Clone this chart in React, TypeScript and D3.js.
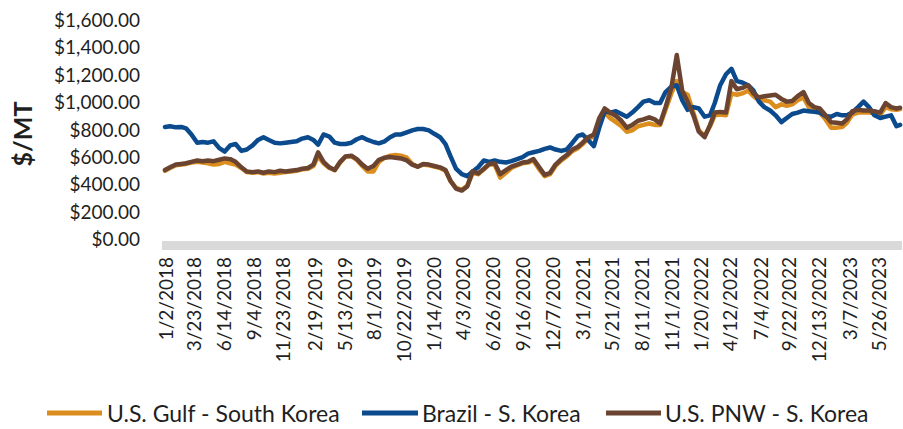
import React from "react";
import * as d3 from "d3";

const DATES: string[] = [
  "2018-01-02","2018-01-16","2018-02-01","2018-02-16","2018-03-01","2018-03-16","2018-04-01","2018-04-16","2018-05-01","2018-05-16","2018-06-01","2018-06-16","2018-07-01","2018-07-16","2018-08-01","2018-08-16","2018-09-01","2018-09-16","2018-10-01","2018-10-16","2018-11-01","2018-11-16","2018-12-01","2018-12-16",
  "2019-01-01","2019-01-16","2019-02-01","2019-02-16","2019-03-01","2019-03-16","2019-04-01","2019-04-16","2019-05-01","2019-05-16","2019-06-01","2019-06-16","2019-07-01","2019-07-16","2019-08-01","2019-08-16","2019-09-01","2019-09-16","2019-10-01","2019-10-16","2019-11-01","2019-11-16","2019-12-01","2019-12-16",
  "2020-01-01","2020-01-16","2020-02-01","2020-02-16","2020-03-01","2020-03-16","2020-04-01","2020-04-16","2020-05-01","2020-05-16","2020-06-01","2020-06-16","2020-07-01","2020-07-16","2020-08-01","2020-08-16","2020-09-01","2020-09-16","2020-10-01","2020-10-16","2020-11-01","2020-11-16","2020-12-01","2020-12-16",
  "2021-01-01","2021-01-16","2021-02-01","2021-02-16","2021-03-01","2021-03-16","2021-04-01","2021-04-16","2021-05-01","2021-05-16","2021-06-01","2021-06-16","2021-07-01","2021-07-16","2021-08-01","2021-08-16","2021-09-01","2021-09-16","2021-10-01","2021-10-16","2021-11-01","2021-11-16","2021-12-01","2021-12-16",
  "2022-01-01","2022-01-16","2022-02-01","2022-02-16","2022-03-01","2022-03-16","2022-04-01","2022-04-16","2022-05-01","2022-05-16","2022-06-01","2022-06-16","2022-07-01","2022-07-16","2022-08-01","2022-08-16","2022-09-01","2022-09-16","2022-10-01","2022-10-16","2022-11-01","2022-11-16","2022-12-01","2022-12-16",
  "2023-01-01","2023-01-16","2023-02-01","2023-02-16","2023-03-01","2023-03-16","2023-04-01","2023-04-16","2023-05-01","2023-05-16","2023-06-01","2023-06-16","2023-07-01","2023-07-16","2023-07-26",
];

const US_GULF: number[] = [
  495, 515, 535, 540, 545, 555, 560, 555, 550, 540,
  545, 560, 550, 540, 515, 485, 480, 485, 475, 480,
  475, 480, 485, 490, 495, 505, 510, 530, 600, 550,
  515, 500, 555, 600, 600, 575, 530, 490, 490, 560,
  590, 605, 610, 605, 590, 545, 525, 540, 535, 525,
  515, 495, 420, 370, 355, 385, 480, 470, 505, 540,
  540, 445, 480, 515, 535, 550, 555, 570, 505, 455,
  470, 530, 570, 600, 640, 660, 690, 730, 745, 850,
  920, 880, 850, 820, 780, 790, 820, 830, 840, 830,
  830, 940, 1060, 1150, 1070, 1050, 920, 790, 750, 820,
  900, 905, 900, 1060, 1050, 1060, 1080, 1040, 1010, 1010,
  1000, 960, 980, 970, 980, 1010, 1030, 960, 930, 920,
  870, 810, 810, 815, 845, 905, 920, 920, 920, 915,
  905, 960, 945, 940, 945,
];

const BRAZIL: number[] = [
  815, 820, 812, 815, 805, 760, 700, 705, 700, 710,
  660, 635, 680, 690, 640, 650, 680, 720, 740, 720,
  700, 695, 700, 705, 710, 730, 740, 720, 685, 760,
  745, 700, 690, 690, 700, 725, 740, 720, 705, 695,
  710, 740, 760, 760, 775, 790, 800, 800, 790, 765,
  740, 690, 600, 510, 470, 455, 490, 520, 570, 560,
  570, 560, 555, 565, 580, 595, 620, 630, 640, 655,
  665, 650, 640, 650, 700, 750, 760, 720, 675, 810,
  930, 920, 930, 910, 890, 920, 960, 1000, 1010, 990,
  990, 1070, 1110, 1120, 1010, 940, 960, 950, 890, 900,
  990, 1120, 1200, 1240, 1150, 1140, 1120, 1080, 1000, 960,
  935, 900, 850, 880, 910, 920, 935, 930, 925, 920,
  895, 890, 910, 900, 900, 920, 960, 1000, 960, 900,
  880, 890, 900, 820, 830,
];

const US_PNW: number[] = [
  500, 520, 540, 545, 550, 560, 570, 565, 570, 565,
  575, 585, 580, 560, 520, 490, 485, 490, 480, 490,
  485, 495, 490, 495, 500, 510, 515, 540, 630, 560,
  520, 500, 560, 600, 605, 580, 540, 510, 530, 575,
  590, 595, 590, 585, 570, 540, 525, 545, 540, 530,
  520, 500, 420, 365, 350, 380, 490, 475, 510, 545,
  550, 470, 500, 525, 540, 555, 560, 580, 520, 465,
  480, 540, 580, 610, 650, 670, 700, 740, 760, 880,
  950, 920, 895, 860, 810, 830, 860, 870, 885, 870,
  840, 960, 1100, 1340, 1080, 1000, 900, 780, 740, 830,
  920, 925, 920, 1150, 1090, 1100, 1120, 1060, 1030, 1040,
  1045, 1050, 1020, 1000, 1005, 1040, 1070, 990, 960, 950,
  900, 850, 845, 840, 870, 930, 940, 935, 935, 930,
  920, 990, 960, 950, 955,
];

const X_TICKS: string[] = [
  "1/2/2018","3/23/2018","6/14/2018","9/4/2018","11/23/2018","2/19/2019","5/13/2019","8/1/2019",
  "10/22/2019","1/14/2020","4/3/2020","6/26/2020","9/16/2020","12/7/2020","3/1/2021","5/21/2021",
  "8/11/2021","11/1/2021","1/20/2022","4/12/2022","7/4/2022","9/22/2022","12/13/2022","3/7/2023","5/26/2023",
];

const Y_TICKS: number[] = [0, 200, 400, 600, 800, 1000, 1200, 1400, 1600];

const SERIES = [
  { name: "U.S. Gulf - South Korea", values: US_GULF, color: "#DB8E1E" },
  { name: "Brazil - S. Korea", values: BRAZIL, color: "#0B4A8C" },
  { name: "U.S. PNW - S. Korea", values: US_PNW, color: "#6B4431" },
];

const FONT = "Lato, 'Open Sans', sans-serif";

const parseIso = d3.timeParse("%Y-%m-%d");
const parseMdy = d3.timeParse("%m/%d/%Y");

export default function App() {
  const W = 903;
  const H = 429;
  const dates = DATES.map((d) => parseIso(d) as Date);
  const x = d3
    .scaleTime()
    .domain([parseMdy("1/2/2018") as Date, parseMdy("5/26/2023") as Date])
    .range([165, 878]);
  const y = d3.scaleLinear().domain([0, 1600]).range([238.5, 19.5]);
  const fmt = d3.format("$,.2f");

  const line = d3
    .line<number>()
    .x((_, i) => x(dates[i]))
    .y((v) => y(v));

  const legendItems = [
    { x1: 47, x2: 102, tx: 107 },
    { x1: 362, x2: 418, tx: 422 },
    { x1: 606, x2: 661, tx: 665 },
  ];

  return (
    <svg
      width={W}
      height={H}
      style={{ position: "absolute", left: 0, top: 0, background: "#fff" }}
      fontFamily={FONT}
    >
      <rect x={0} y={0} width={W} height={H} fill="#fff" />
      <text
        transform={`translate(22,134) rotate(-90)`}
        textAnchor="middle"
        dominantBaseline="central"
        fontSize={25}
        fontWeight="bold"
        fill="#1f1f1f"
      >
        $/MT
      </text>
      {Y_TICKS.map((t) => (
        <text
          key={t}
          x={140}
          y={y(t)}
          textAnchor="end"
          dominantBaseline="central"
          fontSize={19}
          fill="#1f1f1f"
        >
          {fmt(t)}
        </text>
      ))}
      <rect x={162} y={241} width={740} height={9} fill="#D9D9D9" />
      {X_TICKS.map((t) => {
        const xp = x(parseMdy(t) as Date);
        return (
          <text
            key={t}
            transform={`translate(${xp},257) rotate(-90)`}
            textAnchor="end"
            dominantBaseline="central"
            fontSize={19}
            fill="#1f1f1f"
          >
            {t}
          </text>
        );
      })}
      {SERIES.map((s) => (
        <path
          key={s.name}
          d={line(s.values) || ""}
          fill="none"
          stroke={s.color}
          strokeWidth={4.5}
          strokeLinejoin="round"
          strokeLinecap="round"
        />
      ))}
      {SERIES.map((s, i) => (
        <g key={s.name}>
          <line
            x1={legendItems[i].x1}
            x2={legendItems[i].x2}
            y1={413}
            y2={413}
            stroke={s.color}
            strokeWidth={5}
          />
          <text
            x={legendItems[i].tx}
            y={413}
            dominantBaseline="central"
            fontSize={23}
            fill="#1f1f1f"
          >
            {s.name}
          </text>
        </g>
      ))}
    </svg>
  );
}
